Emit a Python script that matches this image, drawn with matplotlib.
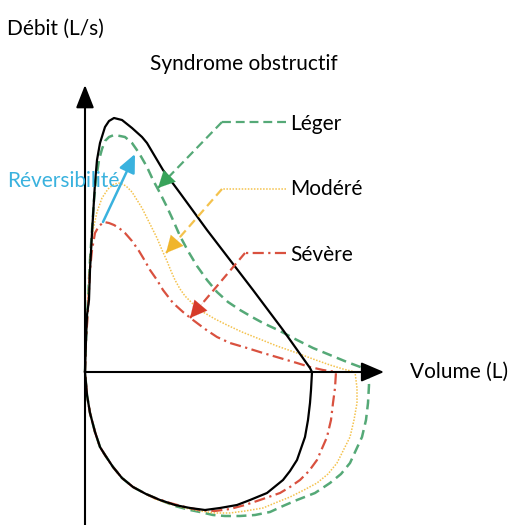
import matplotlib
matplotlib.use("Agg")
import matplotlib.pyplot as plt

# curve points (pixel space, y downwards)
normal_x = [85, 86, 87, 89, 90, 92, 95, 97, 100, 105, 109, 114, 122, 132, 142, 147, 163, 180, 207, 230, 253, 283,
            310, 312, 311, 310, 308, 305, 297, 290, 283, 267, 250, 237, 220, 205, 190, 175, 160, 146, 133, 122,
            113, 105, 100, 95, 90, 87, 85]
normal_y = [372, 340, 315, 300, 270, 233, 183, 160, 143, 127, 121, 118, 120, 128, 137, 143, 170, 193, 230, 260, 290, 330,
            368, 372, 390, 403, 420, 437, 460, 471, 480, 493, 500, 505, 508, 510, 508, 505, 500, 494, 487, 478,
            467, 455, 447, 432, 413, 395, 372]

leger_x = [85, 86, 88, 90, 94, 96, 99, 102, 105, 109, 114, 120, 125, 132, 139, 147, 153, 160, 167, 173, 180, 188,
           197, 207, 217, 228, 240, 252, 263, 280, 297, 313, 330, 347, 363, 368,
           369, 368, 366, 362, 350, 341, 330, 315, 297, 283, 270, 255, 240, 225, 213, 200, 190, 175, 160, 146,
           133, 122, 113, 105, 100, 95, 90, 87, 85]
leger_y = [372, 340, 300, 260, 200, 180, 160, 149, 141, 137, 135, 136, 137, 143, 153, 167, 180, 193, 207, 220, 236, 251,
           266, 280, 292, 302, 310, 317, 323, 331, 340, 348, 355, 362, 368, 372,
           385, 403, 420, 437, 463, 474, 483, 493, 500, 506, 512, 515, 516, 516, 515, 512, 510, 506, 500, 494,
           487, 478, 467, 455, 447, 432, 413, 395, 372]

modere_x = [85, 86, 88, 90, 93, 97, 102, 108, 114, 120, 126, 132, 137, 142, 147, 152, 157, 162, 167, 171, 175, 180,
            185, 193, 203, 215, 227, 242, 257, 277, 297, 313, 330, 343, 355,
            357, 357, 354, 350, 337, 328, 317, 304, 290, 275, 263, 245, 230, 215, 200, 185, 170, 155,
            146, 133, 122, 113, 105, 100, 95, 90, 87, 85]
modere_y = [372, 340, 300, 260, 230, 212, 198, 189, 184, 183, 186, 192, 200, 208, 218, 228, 238, 250, 261, 271, 280, 289,
            296, 304, 312, 319, 325, 332, 338, 346, 353, 359, 365, 369, 372,
            388, 403, 420, 437, 463, 474, 483, 490, 497, 503, 508, 511, 513, 513, 511, 508, 504, 499,
            494, 487, 478, 467, 455, 447, 432, 413, 395, 372]

severe_x = [85, 86, 88, 90, 92, 95, 99, 104, 109, 114, 119, 125, 132, 139, 145, 150, 157, 163, 173, 183, 193, 205,
            217, 230, 247, 263, 280, 297, 310, 323, 336,
            335, 333, 331, 327, 317, 309, 300, 290, 280, 260, 245, 230, 215, 200, 185, 170, 155,
            146, 133, 122, 113, 105, 100, 95, 90, 87, 85]
severe_y = [372, 340, 310, 270, 250, 233, 226, 222, 223, 225, 228, 233, 241, 251, 261, 270, 280, 290, 303, 312, 320, 329,
            337, 343, 348, 353, 358, 363, 367, 370, 372,
            388, 403, 420, 437, 460, 471, 480, 487, 493, 500, 505, 509, 511, 510, 507, 503, 498,
            494, 487, 478, 467, 455, 447, 432, 413, 395, 372]

# labels and their leader lines: label pos, elbow, arrow tip
labels = ["Léger", "Modéré", "Sévère"]
label_pos = [(290, 124), (290, 189), (290, 255)]
elbows = [(222, 122), (222, 189), (245, 253)]
tips = [(158, 188), (166, 253), (190, 318)]

GREEN = "#55a977"
ORANGE = "#f4c24d"
RED = "#d9513f"
BLUE = "#3ab2de"
head_cols = ["#38a35a", "#f0b52c", "#d63b28"]

fig = plt.figure(figsize=(5.13, 5.25), dpi=100)
ax = fig.add_axes([0, 0, 1, 1])
ax.set_xlim(0, 513)
ax.set_ylim(525, 0)
ax.axis("off")

plt.rcParams["font.family"] = ["Lato", "DejaVu Sans"]
fs = 15

# axes with arrow heads
ax.annotate("", xy=(85, 85), xytext=(85, 525),
            arrowprops=dict(arrowstyle="-|>,head_length=1.4,head_width=0.55", color="black", lw=1.5,
                            shrinkA=0, shrinkB=0))
ax.annotate("", xy=(384, 372), xytext=(85, 372),
            arrowprops=dict(arrowstyle="-|>,head_length=1.4,head_width=0.6", color="black", lw=1.5,
                            shrinkA=0, shrinkB=0))

# loops
ax.plot(leger_x, leger_y, color=GREEN, lw=1.8, ls=(0, (4, 2.2)))
ax.plot(modere_x, modere_y, color=ORANGE, lw=1.1, ls=(0, (1, 1)))
ax.plot(severe_x, severe_y, color=RED, lw=1.6, ls=(0, (5, 2, 1, 2)))
ax.plot(normal_x, normal_y, color="black", lw=1.6)

# leader lines
horiz_styles = [(0, (4, 2.2)), (0, (1, 1)), (0, (5, 2, 1, 2))]
line_cols = [GREEN, ORANGE, RED]
horiz_lw = [1.6, 1.1, 1.6]
for lab, pos, elb, tip, hs, lc, hl, hc in zip(labels, label_pos, elbows, tips, horiz_styles,
                                              line_cols, horiz_lw, head_cols):
    ax.plot([pos[0] - 4, elb[0]], [elb[1], elb[1]], color=lc, lw=hl, ls=hs)
    ax.plot([elb[0], tip[0]], [elb[1], tip[1]], color=lc, lw=1.6, ls=(0, (4, 2.2)))
    ax.annotate("", xy=tip, xytext=(tip[0] + (elb[0] - tip[0]) * 0.25, tip[1] + (elb[1] - tip[1]) * 0.25),
                arrowprops=dict(arrowstyle="-|>,head_length=1.2,head_width=0.6", color=hc, lw=0.1,
                                shrinkA=0, shrinkB=0))
    ax.text(pos[0], pos[1], lab, fontsize=fs, va="center", ha="left", color="black")

# reversibility arrow
ax.annotate("", xy=(135, 154), xytext=(103, 222),
            arrowprops=dict(arrowstyle="-|>,head_length=1.1,head_width=0.5", color=BLUE, lw=1.8,
                            shrinkA=0, shrinkB=0))
ax.text(7, 181, "Réversibilité", fontsize=fs, va="center", ha="left", color=BLUE)

ax.text(7, 29, "Débit (L/s)", fontsize=fs, va="center", ha="left")
ax.text(150, 64, "Syndrome obstructif", fontsize=fs, va="center", ha="left")
ax.text(410, 372, "Volume (L)", fontsize=fs, va="center", ha="left")

fig.savefig("out.png", dpi=100)
